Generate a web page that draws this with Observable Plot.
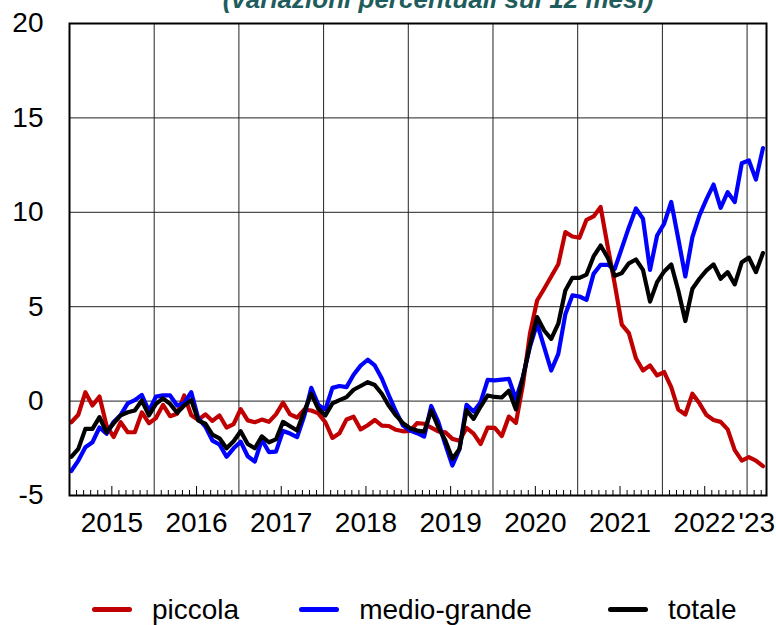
<!DOCTYPE html>
<html><head><meta charset="utf-8">
<script src="https://cdn.jsdelivr.net/npm/d3@7"></script>
<script src="https://cdn.jsdelivr.net/npm/@observablehq/plot@0.6"></script>
<style>
body{margin:0;background:#fff;font-family:"Liberation Sans",Arial,sans-serif;}
#chart svg{display:block;}
#legend{display:flex;align-items:center;width:776px;height:65px;box-sizing:border-box;padding-top:34px;padding-left:92px;font-size:28px;line-height:36px;color:#000;white-space:nowrap;}
.item{display:flex;align-items:center;white-space:nowrap;flex:none;}
.sw{display:inline-block;width:40px;height:5px;border-radius:3px;margin-right:20px;}
</style></head><body>
<div id="chart"></div>
<div id="legend"></div>
<script>
// Monthly data, Jan 2015 .. Mar 2023
const firstYear = 2015;
const yearLabels = ["2015","2016","2017","2018","2019","2020","2021","2022","'23"];
const yTicks = [-5, 0, 5, 10, 15, 20];
const seriesNames = ["piccola", "medio-grande", "totale"];
const seriesColors = ["#c00000", "#0000ff", "#000000"];
const titleText = "(variazioni percentuali sui 12 mesi)";

const piccola = [-1.12,-0.72,0.47,-0.23,0.24,-1.3,-1.9,-1.12,-1.65,-1.65,
-0.6,-1.17,-0.9,-0.2,-0.8,-0.67,0.3,-0.75,-1.0,-0.7,
-1.05,-0.76,-1.4,-1.22,-0.43,-1.02,-1.12,-0.98,-1.1,-0.7,
-0.08,-0.7,-0.87,-0.45,-0.5,-0.65,-1.12,-1.95,-1.7,-0.97,
-0.83,-1.5,-1.28,-1.0,-1.3,-1.32,-1.52,-1.6,-1.58,-1.17,
-1.2,-1.4,-1.6,-1.65,-2.0,-2.1,-1.42,-1.72,-2.27,-1.4,
-1.42,-1.85,-0.82,-1.15,0.9,3.6,5.33,5.95,6.6,7.25,
8.95,8.72,8.65,9.6,9.78,10.28,8.2,6.2,4.05,3.6,
2.27,1.62,1.89,1.36,1.54,0.74,-0.45,-0.71,0.39,-0.12,
-0.74,-1.0,-1.1,-1.5,-2.6,-3.15,-2.97,-3.15,-3.45];

const medioGrande = [-3.7,-3.15,-2.44,-2.18,-1.4,-1.73,-1.1,-0.73,-0.12,0.05,
0.32,-0.52,0.24,0.3,0.3,-0.23,-0.1,0.47,-0.92,-1.35,
-2.09,-2.3,-2.95,-2.5,-2.15,-2.92,-3.2,-2.05,-2.7,-2.68,
-1.58,-1.72,-1.91,-0.8,0.7,-0.2,-0.45,0.7,0.8,0.74,
1.4,1.88,2.19,1.89,1.2,0.3,-0.55,-1.29,-1.56,-1.7,
-1.88,-0.26,-1.1,-2.3,-3.41,-2.55,-0.2,-0.55,-0.06,1.12,
1.1,1.14,1.18,0.1,1.3,2.9,4.1,2.86,1.62,2.5,
4.6,5.6,5.54,5.36,6.74,7.22,7.22,7.0,8.1,9.2,
10.2,9.66,6.95,8.77,9.4,10.55,8.6,6.6,8.68,9.84,
10.7,11.47,10.24,11.07,10.54,12.6,12.75,11.73,13.4];

const totale = [-2.95,-2.53,-1.47,-1.47,-0.85,-1.65,-1.18,-0.76,-0.59,-0.5,
0.03,-0.76,-0.15,0.14,-0.15,-0.62,-0.23,0.05,-1.03,-1.2,
-1.78,-1.97,-2.5,-2.13,-1.6,-2.27,-2.5,-1.87,-2.18,-2.03,
-1.1,-1.33,-1.56,-0.55,0.39,-0.41,-0.76,-0.12,0.05,0.21,
0.6,0.8,1.0,0.85,0.39,-0.25,-0.76,-1.17,-1.44,-1.56,
-1.62,-0.5,-1.38,-2.09,-3.06,-2.53,-0.48,-0.94,-0.29,0.3,
0.22,0.19,0.55,-0.44,1.27,3.0,4.45,3.74,3.3,4.1,
5.86,6.53,6.53,6.7,7.66,8.24,7.6,6.63,6.78,7.3,
7.5,6.95,5.27,6.3,6.87,7.24,5.86,4.24,5.95,6.48,
6.92,7.24,6.48,6.83,6.18,7.36,7.6,6.83,7.84];

const seriesValues = [piccola, medioGrande, totale];
const n = piccola.length;
const off = -0.25;            // month boundary offset relative to data points
const xEnd = n - 0.5;         // right edge of the time axis (month index)

const rows = seriesValues.map((vals, s) => vals.map((v, i) => ({i, v, s: seriesNames[s]})));

const nYears = yearLabels.length;
const yearBounds = d3.range(1, nYears).map(k => 12 * k + off);
const labelPos = yearLabels.map((t, k) => {
  const a = 12 * k + off, b = Math.min(12 * (k + 1) + off, xEnd);
  return {t, x: (a + b) / 2};
});
const minor = d3.range(1, n).filter(m => m % 12 !== 0).map(m => ({x: m + off, long: m % 12 === 6}));

const chart = Plot.plot({
  width: 776,
  height: 560,
  marginLeft: 69,
  marginRight: 10,
  marginTop: 23,
  marginBottom: 65,
  style: {fontFamily: "'Liberation Sans', Arial, sans-serif", fontSize: "28px", background: "#fff", color: "#000", overflow: "visible"},
  x: {domain: [off, xEnd], axis: null},
  y: {domain: [-5, 20], axis: null},
  marks: [
    Plot.ruleY(yTicks.slice(1, -1), {stroke: "#222", strokeWidth: 1}),
    Plot.ruleX(yearBounds, {stroke: "#222", strokeWidth: 1}),
    Plot.ruleX(minor.filter(d => !d.long), {x: "x", y1: -5, y2: -5, insetTop: -5, stroke: "#000", strokeWidth: 1}),
    Plot.ruleX(minor.filter(d => d.long), {x: "x", y1: -5, y2: -5, insetTop: -9, stroke: "#000", strokeWidth: 1}),
    Plot.line(rows[0], {x: "i", y: "v", stroke: seriesColors[0], strokeWidth: 4.2, strokeLinejoin: "round"}),
    Plot.line(rows[1], {x: "i", y: "v", stroke: seriesColors[1], strokeWidth: 4.2, strokeLinejoin: "round"}),
    Plot.line(rows[2], {x: "i", y: "v", stroke: seriesColors[2], strokeWidth: 4.2, strokeLinejoin: "round"}),
    Plot.frame({stroke: "#000", strokeWidth: 2}),
    Plot.axisY({ticks: yTicks, tickSize: 0, tickPadding: 26, fontSize: 28, label: null, tickFormat: d => String(d)}),
    Plot.text(labelPos, {x: "x", text: "t", frameAnchor: "bottom", dy: 28, lineAnchor: "middle", fontSize: 28, fill: "#000"}),
    Plot.text([titleText], {text: d => d, frameAnchor: "top", dx: 20, dy: -16, lineAnchor: "bottom", fontSize: 26, fontWeight: "bold", fontStyle: "italic", fill: "#1f5c5c"})
  ]
});
document.getElementById("chart").appendChild(chart);

const legendGaps = [60, 76, 0];
const legend = document.getElementById("legend");
seriesNames.forEach((name, k) => {
  const item = document.createElement("div");
  item.className = "item";
  item.style.marginRight = legendGaps[k] + "px";
  const sw = document.createElement("span");
  sw.className = "sw";
  sw.style.background = seriesColors[k];
  const t = document.createElement("span");
  t.textContent = name;
  item.appendChild(sw);
  item.appendChild(t);
  legend.appendChild(item);
});
</script>
</body></html>
